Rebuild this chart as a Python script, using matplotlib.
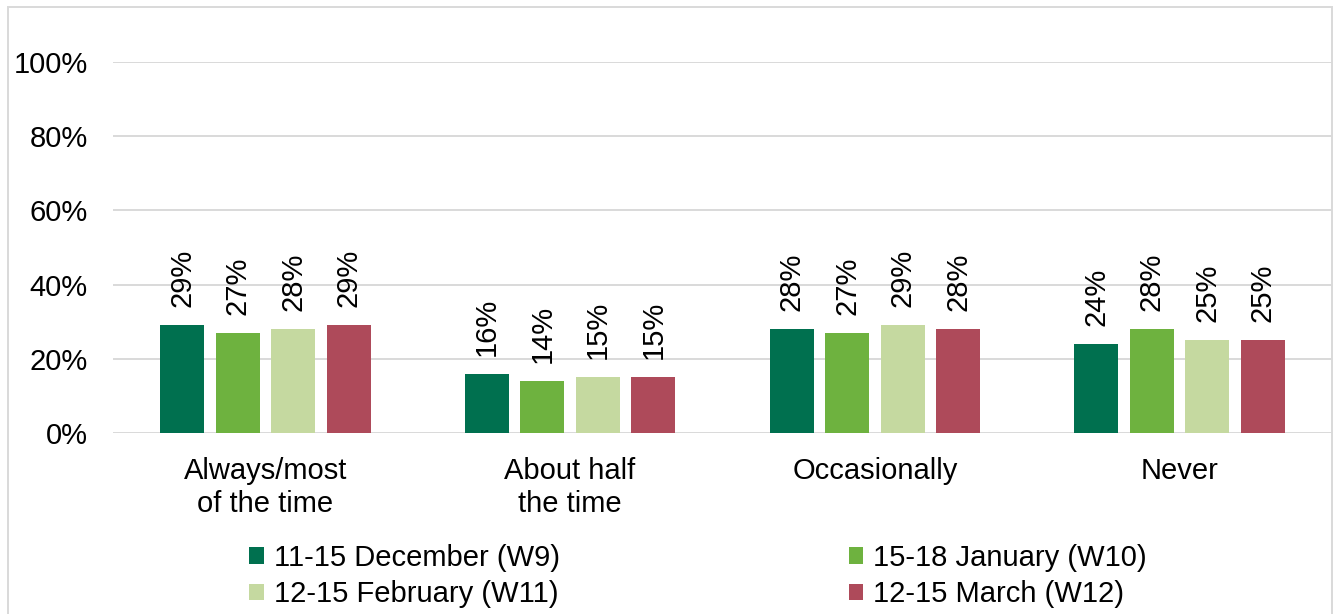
import matplotlib
matplotlib.use("Agg")
import matplotlib.pyplot as plt
from matplotlib.patches import Rectangle, Patch
import numpy as np

plt.rcParams['font.family'] = ['Liberation Sans', 'DejaVu Sans']

categories = ["Always/most\nof the time", "About half\nthe time", "Occasionally", "Never"]
series_names = ["11-15 December (W9)", "15-18 January (W10)",
                "12-15 February (W11)", "12-15 March (W12)"]
w9 = [29, 16, 28, 24]
w10 = [27, 14, 27, 28]
w11 = [28, 15, 29, 25]
w12 = [29, 15, 28, 25]
y_ticks = [0, 20, 40, 60, 80, 100]

colors = ["#00704F", "#6EB23F", "#C5D9A0", "#AE4A5A"]
series = [w9, w10, w11, w12]

fig = plt.figure(figsize=(13.38, 6.14), dpi=100)
ax = fig.add_axes([113/1338, (614-433)/614, (1332-113)/1338, (433-62)/614])

x = np.arange(len(categories))
bar_w = 0.144
pitch = 0.182
fs = 21
for i, (vals, c, name) in enumerate(zip(series, colors, series_names)):
    offs = (i - 1.5) * pitch
    bars = ax.bar(x + offs, vals, width=bar_w, color=c, label=name, zorder=3)
    for b, v in zip(bars, vals):
        ax.annotate(f"{v}%", (b.get_x() + b.get_width()/2, v),
                    xytext=(0, 13), textcoords="offset points",
                    rotation=90, ha="center", va="bottom", fontsize=fs)

ax.set_xlim(-0.5, len(categories) - 0.5)
ax.set_ylim(0, 100)
ax.set_yticks(y_ticks)
ax.set_yticklabels([f"{t}%" for t in y_ticks], fontsize=fs)
ax.set_xticks(x)
ax.set_xticklabels(categories, fontsize=fs, linespacing=1.26)
ax.tick_params(axis="both", length=0)
ax.tick_params(axis="y", pad=18)
ax.tick_params(axis="x", pad=17)
ax.grid(axis="y", color="#D9D9D9", linewidth=1.4, zorder=0)
ax.set_axisbelow(True)
for s in ax.spines.values():
    s.set_visible(False)

# Outer frame around the chart area
fig.patches.append(Rectangle((8/1338, -0.05), (1332-8)/1338, 1.05 - 7/614,
                             transform=fig.transFigure, fill=False,
                             edgecolor="#D9D9D9", linewidth=1.4))

handles = [Patch(facecolor=c) for c in colors]
order = [0, 2, 1, 3]
leg = fig.legend([handles[i] for i in order], [series_names[i] for i in order],
                 ncol=2, loc="center", bbox_to_anchor=(698/1338, (614-576)/614),
                 frameon=False, fontsize=fs, handlelength=0.5, handleheight=0.5,
                 handletextpad=0.35, columnspacing=9.9, labelspacing=0.3)

fig.savefig("out.png", dpi=100)
